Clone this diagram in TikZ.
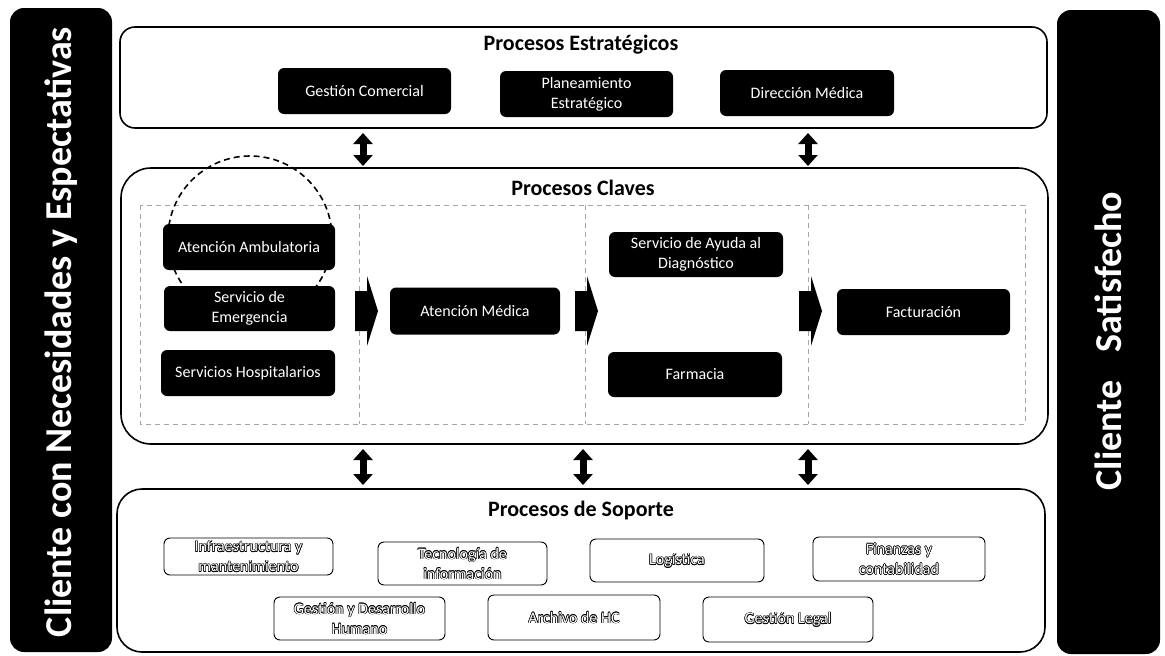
\documentclass[tikz,border=0pt]{standalone}
\usepackage{fontspec}
\setmainfont{Carlito}
\usetikzlibrary{arrows.meta}
% white letters with a thin black outline
\newcommand\hollow[1]{{\leavevmode\color{black}%
  \rlap{\kern.6pt#1}\rlap{\kern-.6pt#1}%
  \rlap{\raisebox{.6pt}{#1}}\rlap{\raisebox{-.6pt}{#1}}%
  \rlap{\kern.45pt\raisebox{.45pt}{#1}}\rlap{\kern-.45pt\raisebox{.45pt}{#1}}%
  \rlap{\kern.45pt\raisebox{-.45pt}{#1}}\rlap{\kern-.45pt\raisebox{-.45pt}{#1}}%
  \color{white}#1}}
\begin{document}
\begin{tikzpicture}[x=1pt,y=-1pt,
  frame/.style={draw=black, line width=1.6pt, fill=white, inner sep=0pt, outer sep=0pt},
  proc/.style={fill=black, text=white, rounded corners=6pt, inner sep=0pt, outer sep=0pt,
    align=center, font=\fontsize{16}{20}\selectfont},
  supp/.style={draw=black, fill=white, line width=0.9pt, rounded corners=6pt, inner sep=0pt,
    outer sep=0pt, align=center, font=\fontsize{16}{20}\selectfont},
  ttl/.style={font=\bfseries\fontsize{22}{26}\selectfont},
  bar/.style={fill=black, rounded corners=14pt, inner sep=0pt},
  bartext/.style={text=white, rotate=90, font=\bfseries\fontsize{38}{40}\selectfont},
  link/.style={line width=7pt,
    arrows={Triangle[width=19pt,length=11pt]-Triangle[width=19pt,length=11pt]}},
  lane/.style={draw=gray!70, line width=0.6pt, dash pattern=on 5pt off 4pt},
  focus/.style={draw=black, line width=1.6pt, dash pattern=on 6pt off 4pt},
  flowarrow/.pic={\fill[black] (0,-20) -- (12,-20) -- (12,-35) -- (23,0) -- (12,35)
    -- (12,20) -- (0,20) -- cycle;}
]
\useasboundingbox (0,0) rectangle (1165,656);

% side bars
\node[bar, minimum width=102pt, minimum height=644pt] (inbar) at (61,330) {};
\node[bartext] (intext) at (61,332) {Cliente con Necesidades y Espectativas};
\node[bar, minimum width=103pt, minimum height=644pt] (outbar) at (1108.5,332) {};
\node[bartext] (outtext) at (1108,341) {Cliente\hspace{28pt}Satisfecho};

% process groups
\node[frame, rounded corners=15pt, minimum width=927pt, minimum height=101pt] (strat) at (583.5,77.5) {};
\node[frame, rounded corners=30pt, minimum width=927pt, minimum height=276pt] (key) at (584.5,306) {};
\node[frame, rounded corners=25pt, minimum width=928pt, minimum height=163pt] (supp) at (581,570.5) {};

\node[ttl] (strattitle) at (581,45) {Procesos Estratégicos};
\node[ttl] (keytitle) at (583,188) {Procesos Claves};
\node[ttl] (supptitle) at (581,511) {Procesos de Soporte};

% strategic processes
\node[proc, minimum width=173pt, minimum height=46pt] (gc) at (364.5,91) {Gestión Comercial};
\node[proc, minimum width=173pt, minimum height=46pt] (pe) at (586.5,94) {Planeamiento\\Estratégico};
\node[proc, minimum width=174pt, minimum height=46pt] (dm) at (807,93) {Dirección Médica};

% lanes of the key processes
\draw[lane] (140,205) rectangle (1025,424);
\foreach \x in {359,585,808} \draw[lane] (\x,205) -- (\x,424);

% highlighted service
\draw[focus] (250,238) circle (82);

% key processes
\node[proc, minimum width=172pt, minimum height=46pt] (amb) at (249,247) {Atención Ambulatoria};
\node[proc, minimum width=171pt, minimum height=45pt] (emer) at (249.5,308.5) {Servicio de\\Emergencia};
\node[proc, minimum width=174pt, minimum height=46pt] (hosp) at (248,373) {Servicios Hospitalarios};
\node[proc, minimum width=170pt, minimum height=47pt] (am) at (475,311) {Atención Médica};
\node[proc, minimum width=174pt, minimum height=45pt] (diag) at (696,254.5) {Servicio de Ayuda al\\Diagnóstico};
\node[proc, minimum width=174pt, minimum height=45pt] (farm) at (695,374.5) {Farmacia};
\node[proc, minimum width=173pt, minimum height=46pt] (fact) at (923.5,312) {Facturación};

% flow between the lanes
\pic (f1) at (355,311) {flowarrow};
\pic (f2) at (575,311) {flowarrow};
\pic (f3) at (799,311) {flowarrow};

% links between the groups
\coordinate (c1) at (363,0);
\coordinate (c2) at (583,0);
\coordinate (c3) at (808,0);
\draw[link, shorten <=5pt, shorten >=2pt] (strat.south -| c1) -- (key.north -| c1);
\draw[link, shorten <=5pt, shorten >=2pt] (strat.south -| c3) -- (key.north -| c3);
\draw[link, shorten <=5pt, shorten >=4pt] (key.south -| c1) -- (supp.north -| c1);
\draw[link, shorten <=5pt, shorten >=4pt] (key.south -| c2) -- (supp.north -| c2);
\draw[link, shorten <=5pt, shorten >=4pt] (key.south -| c3) -- (supp.north -| c3);

% support processes
\node[supp, minimum width=169pt, minimum height=37pt] (infra) at (248.5,556.5) {\hollow{Infraestructura y}\\\hollow{mantenimiento}};
\node[supp, minimum width=169pt, minimum height=43pt] (tec) at (462.5,563.5) {\hollow{Tecnología de}\\\hollow{información}};
\node[supp, minimum width=174pt, minimum height=43pt] (log) at (677,560.5) {\hollow{Logística}};
\node[supp, minimum width=172pt, minimum height=44pt] (fin) at (899,559) {\hollow{Finanzas y}\\\hollow{contabilidad}};
\node[supp, minimum width=171pt, minimum height=43pt] (gdh) at (359.5,618.5) {\hollow{Gestión y Desarrollo}\\\hollow{Humano}};
\node[supp, minimum width=172pt, minimum height=45pt] (arch) at (574,617.5) {\hollow{Archivo de HC}};
\node[supp, minimum width=170pt, minimum height=45pt] (legal) at (788,619.5) {\hollow{Gestión Legal}};
\end{tikzpicture}
\end{document}
